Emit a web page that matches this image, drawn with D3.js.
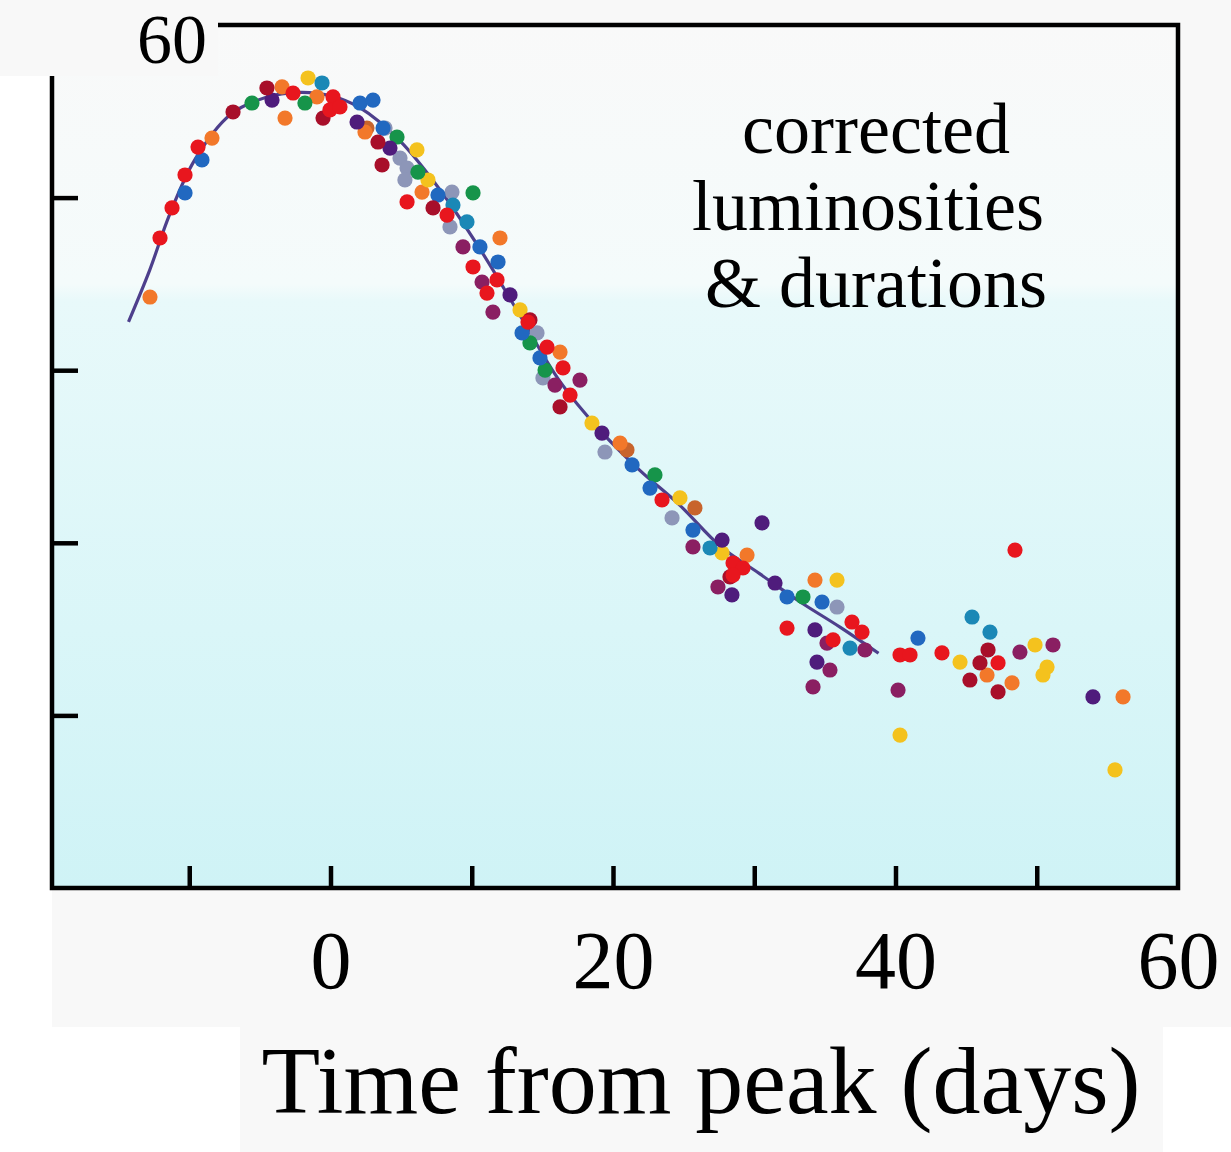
<!DOCTYPE html>
<html>
<head>
<meta charset="utf-8">
<script src="https://cdn.jsdelivr.net/npm/d3@7"></script>
<style>
  html, body { margin: 0; padding: 0; background: #fff; }
  svg { display: block; }
</style>
</head>
<body>
<svg id="chart"></svg>
<script>
// light curve of many supernovae after correction
// each array: [days from peak, corrected luminosity]
const red = [[-12.07,47.66],[-11.22,49.40],[-10.30,51.31],[-9.38,52.93],[-2.65,56.06],[0.18,55.83],[-0.04,55.08],[0.67,55.25],[5.42,49.75],[8.25,48.99],[10.09,45.98],[11.79,45.23],[11.08,44.47],[13.98,42.79],[15.33,41.34],[16.46,40.13],[16.96,38.56],[23.47,32.48],[28.50,28.83],[29.20,28.54],[28.50,28.13],[32.32,25.06],[36.92,25.41],[37.63,24.83],[35.58,24.37],[40.32,23.50],[41.03,23.50],[43.29,23.62],[47.26,23.04],[48.46,29.58]];
const darkRed = [[-6.90,54.96],[-4.50,56.35],[-0.53,54.61],[3.36,53.22],[3.65,51.89],[7.26,49.40],[14.12,42.91],[16.25,37.87],[28.28,28.02],[46.55,23.79],[45.98,23.04],[45.27,22.05],[47.26,21.36]];
const orange = [[-12.78,44.24],[-8.39,53.45],[-3.43,56.41],[-3.22,54.61],[-0.96,55.83],[2.44,53.80],[6.48,50.32],[12.00,47.66],[16.25,41.05],[20.50,35.78],[29.49,29.29],[34.30,27.84],[46.48,22.34],[48.25,21.88],[56.11,21.07]];
const rust = [[2.58,54.03],[20.99,35.38],[25.80,32.02]];
const yellow = [[-1.59,56.93],[6.12,52.76],[6.90,51.02],[13.42,43.49],[18.51,36.94],[24.74,32.60],[27.72,29.41],[35.86,27.84],[44.57,23.09],[49.88,24.08],[50.73,22.80],[50.44,22.34],[40.32,18.86],[55.54,16.84]];
const green = [[-5.56,55.48],[-1.81,55.48],[4.71,53.51],[6.19,51.48],[10.09,50.27],[14.12,41.58],[15.19,40.01],[22.97,33.93],[33.45,26.86]];
const blue = [[-10.30,50.27],[-9.10,52.18],[2.09,55.48],[3.01,55.65],[3.72,54.03],[7.61,50.15],[10.58,47.14],[11.86,46.27],[13.56,42.16],[14.83,40.71],[21.35,34.51],[22.62,33.17],[25.66,30.74],[32.32,26.86],[34.80,26.57],[41.59,24.48]];
const teal = [[-0.60,56.64],[8.67,49.57],[9.66,48.59],[26.87,29.70],[36.78,23.90],[45.42,25.70],[46.69,24.83]];
const purple = [[-4.14,55.65],[1.88,54.38],[4.21,52.87],[12.71,44.36],[19.22,36.36],[27.72,30.16],[28.42,26.98],[30.55,31.15],[31.47,27.67],[34.30,24.95],[34.44,23.09],[53.98,21.07]];
const wine = [[9.38,47.14],[10.73,45.11],[11.50,43.37],[15.89,39.14],[17.66,39.43],[25.66,29.76],[27.43,27.44],[35.15,24.19],[37.84,23.79],[35.36,22.63],[34.16,21.65],[40.18,21.47],[48.81,23.67],[51.15,24.08]];
const grey = [[3.86,54.03],[4.92,52.29],[5.42,51.71],[5.27,51.02],[8.60,50.32],[8.46,48.30],[14.62,42.16],[15.04,39.55],[19.43,35.26],[24.18,31.44],[35.86,26.28]];

// template light curve
const curveDays = [-14.3,-12.8,-11.4,-9.6,-7.1,-4.6,-2.2,0,2.1,4.9,7.8,10.6,13.4,16.2,19.1,21.9,24.7,27.6,30.4,33.2,36.1,38.8];
const curveLum  = [42.8,45.8,49.0,52.2,54.8,55.8,56.1,55.9,55.2,53.3,50.4,47.0,43.2,39.4,36.5,34.2,32.2,29.8,28.2,26.6,25.1,23.6];

const xTicks = [-10,0,10,20,30,40,50];
const xTickLabels = [0,20,40,60];
const yTicks = [20,30,40,50];
const yTopLabel = 60;
const xTitle = "Time from peak (days)";
const note = ["corrected","luminosities","& durations"];

const series = [
  {pts: grey, color: "#8d96b8"},
  {pts: rust, color: "#c8642c"},
  {pts: orange, color: "#f2782a"},
  {pts: yellow, color: "#f4c21e"},
  {pts: green, color: "#16944a"},
  {pts: teal, color: "#1b88b6"},
  {pts: blue, color: "#2168c0"},
  {pts: purple, color: "#4f1c7c"},
  {pts: wine, color: "#8a1f62"},
  {pts: darkRed, color: "#a80f2a"},
  {pts: red, color: "#e8161e"}
];

const W = 1231, H = 1152;
const serif = "'Liberation Serif','Times New Roman',serif";
const svg = d3.select("#chart").attr("width", W).attr("height", H);

const x = d3.scaleLinear().domain([-20,60]).range([48,1178]);
const y = d3.scaleLinear().domain([10,60]).range([888,25]);

// paper background pieces
svg.append("rect").attr("x",52).attr("y",0).attr("width",W-52).attr("height",1027).style("fill","#f8f8f8");
svg.append("rect").attr("x",240).attr("y",1027).attr("width",923).attr("height",H-1027).style("fill","#f8f8f8");

const defs = svg.append("defs");
const grad = defs.append("linearGradient").attr("id","bg").attr("x1",0).attr("y1",0).attr("x2",0).attr("y2",1);
[[0,"#f9f9f9"],[0.3,"#f4fbfb"],[0.32,"#e8f9fa"],[0.7,"#daf6f8"],[1,"#cff3f6"]].forEach(s=>{
  grad.append("stop").attr("offset",s[0]).attr("stop-color",s[1]);
});

svg.append("rect")
  .attr("x",52).attr("y",y(60))
  .attr("width",x(60)-52).attr("height",y(10)-y(60))
  .style("fill","url(#bg)");

// ticks (inward)
const gx = svg.append("g").attr("transform",`translate(0,${y(10)})`)
  .call(d3.axisBottom(x).tickValues(xTicks).tickSize(-22).tickFormat(""));
gx.select(".domain").remove();
gx.selectAll(".tick line").style("stroke","#000").style("stroke-width",4.5);

const gy = svg.append("g").attr("transform",`translate(52,0)`)
  .call(d3.axisLeft(y).tickValues(yTicks).tickSize(-26).tickFormat(""));
gy.select(".domain").remove();
gy.selectAll(".tick line").style("stroke","#000").style("stroke-width",4.5);

// template curve
const line = d3.line().x(d=>x(d[0])).y(d=>y(d[1])).curve(d3.curveCatmullRom);
svg.append("path")
  .datum(curveDays.map((d,i)=>[d,curveLum[i]]))
  .attr("d",line)
  .style("fill","none").style("stroke","#4d3f8c").style("stroke-width",3.2);

// points
series.forEach(s=>{
  svg.append("g").selectAll("circle")
    .data(s.pts)
    .enter()
    .append("circle")
    .attr("cx",d=>x(d[0]))
    .attr("cy",d=>y(d[1]))
    .attr("r",7.6)
    .style("fill",s.color);
});

// frame
svg.append("rect")
  .attr("x",52).attr("y",y(60))
  .attr("width",x(60)-52).attr("height",y(10)-y(60))
  .style("fill","none").style("stroke","#000").style("stroke-width",4.5);

// pasted patch over the top-left corner with the 60 label
svg.append("rect").attr("x",0).attr("y",0).attr("width",218).attr("height",76).style("fill","#f8f8f8");
svg.append("text")
  .text(yTopLabel)
  .attr("x",172).attr("y",63)
  .attr("text-anchor","middle")
  .style("font-family",serif).style("font-size","70px").style("fill","#000");

// x tick labels
const gl = svg.append("g").attr("transform",`translate(0,${y(10)})`)
  .call(d3.axisBottom(x).tickValues(xTickLabels).tickSize(0).tickPadding(0));
gl.select(".domain").remove();
gl.selectAll(".tick text")
  .attr("y",100).attr("dy",0)
  .style("font-family",serif).style("font-size","82px").style("fill","#000");

// axis title
svg.append("text")
  .text(xTitle)
  .attr("x",701).attr("y",1113)
  .attr("text-anchor","middle")
  .style("font-family",serif).style("font-size","96px").style("fill","#000");

// annotation
svg.append("g").selectAll("text")
  .data(note)
  .enter()
  .append("text")
  .text(d=>d)
  .attr("x",(d,i)=>i===1 ? 868 : 876)
  .attr("y",(d,i)=>153+i*77)
  .attr("text-anchor","middle")
  .style("font-family",serif).style("font-size","72px").style("fill","#000");
</script>
</body>
</html>
